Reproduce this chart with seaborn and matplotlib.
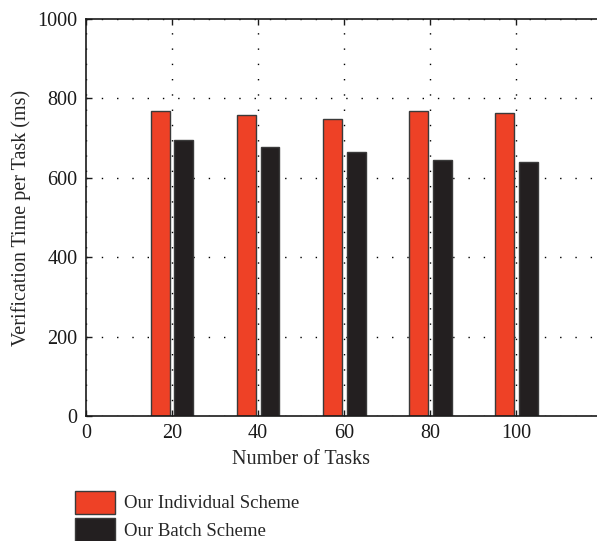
import matplotlib
matplotlib.use("Agg")
import matplotlib.pyplot as plt
import seaborn as sns
import pandas as pd

tasks = [20, 40, 60, 80, 100]
individual_ms = [768, 757, 747, 768, 763]
batch_ms = [696, 678, 664, 646, 641]
scheme_names = ["Our Individual Scheme", "Our Batch Scheme"]
scheme_colors = ["#EE4126", "#231F20"]
x_ticks = [0, 20, 40, 60, 80, 100]
y_ticks = [0, 200, 400, 600, 800, 1000]

df = pd.DataFrame({
    "tasks": tasks * 2,
    "time": individual_ms + batch_ms,
    "scheme": [scheme_names[0]] * len(tasks) + [scheme_names[1]] * len(tasks),
})

sns.set_style("white")
plt.rcParams["font.family"] = ["Liberation Serif", "DejaVu Serif"]

FS_TICK = 14.5
FS_TEXT = 13.5

fig = plt.figure(figsize=(5.97, 5.41), dpi=100)
ax = fig.add_axes([86 / 597, 1 - 416 / 541, 1 - 86 / 597 + 0.002, (416 - 19) / 541])

sns.barplot(
    data=df, x="tasks", y="time", hue="scheme", hue_order=scheme_names,
    palette=scheme_colors, native_scale=True, width=0.55, gap=0.2,
    saturation=1, edgecolor="#3a3a3a", linewidth=1.0, errorbar=None, ax=ax,
)

ax.set_xlim(0, 119)
ax.set_ylim(0, 1000)
ax.set_xticks(x_ticks)
ax.set_yticks(y_ticks)
ax.set_xticklabels([str(t) for t in x_ticks], fontsize=FS_TICK)
ax.set_yticklabels([str(t) for t in y_ticks], fontsize=FS_TICK)
ax.set_xlabel("Number of Tasks", fontsize=FS_TICK)
ax.xaxis.set_label_coords(0.42, -0.085)
ax.set_ylabel("Verification Time per Task (ms)", fontsize=FS_TICK, labelpad=5)

ax.set_axisbelow(True)
ax.grid(True, color="black", linestyle=(0, (1, 10)), linewidth=1.0)
for side in ["left", "bottom", "top", "right"]:
    ax.spines[side].set_visible(True)
    ax.spines[side].set_color("#1a1a1a")
    ax.spines[side].set_linewidth(1.2)
ax.tick_params(axis="both", direction="in", length=4, width=1, color="#1a1a1a",
               top=True, bottom=True, left=True, right=False,
               labelcolor="#1a1a1a")
ax.tick_params(axis="x", pad=6)
ax.tick_params(axis="y", pad=6)

handles, labels = ax.get_legend_handles_labels()
ax.get_legend().remove()
fig.legend(
    handles, labels, loc="upper left", bbox_to_anchor=(67 / 597, 1 - 483 / 541),
    frameon=False, fontsize=FS_TEXT, handlelength=2.15, handleheight=1.56,
    handletextpad=0.48, labelspacing=0.22, borderaxespad=0,
)

fig.savefig("out.png", dpi=100)
